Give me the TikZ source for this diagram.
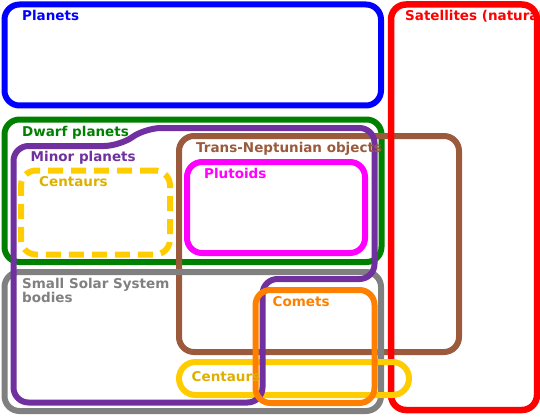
\documentclass[tikz,border=0pt]{standalone}
\usepackage{fontspec}
\setmainfont{DejaVu Sans}
\usepackage{tikz}
\usepackage{xcolor}
\definecolor{planet-blue}{HTML}{0000FF}
\definecolor{moon-red}{HTML}{FF0000}
\definecolor{dwarf-green}{HTML}{008000}
\definecolor{minor-purple}{HTML}{7030A0}
\definecolor{tno-brown}{HTML}{9B5A3C}
\definecolor{pluto-magenta}{HTML}{FF00FF}
\definecolor{centaur-gold}{HTML}{FFCC00}
\definecolor{centaur-text}{HTML}{DDB000}
\definecolor{sssb-gray}{HTML}{808080}
\definecolor{comet-orange}{HTML}{FF8000}
\tikzset{
    set-box/.style = {draw=#1, line width=6pt, rectangle, rounded corners=15pt, inner sep=0pt, outer sep=0pt},
    set-label/.style = {text=#1, font=\fontsize{13.5}{12.5}\selectfont\bfseries, inner sep=0pt, anchor=base west, align=left},
}

\begin{document}
\begin{tikzpicture}[x=1pt, y=-1pt]
\useasboundingbox (0,0) rectangle (540,417);
\clip (0,0) rectangle (540,417);
\node[set-box=planet-blue, minimum width=376.5pt, minimum height=101pt] (planets) at (192.75,55) {};
\node[set-box=dwarf-green, minimum width=377pt, minimum height=142.5pt] (dwarfs) at (193,190.75) {};
\node[set-box=tno-brown, minimum width=280pt, minimum height=216pt] (tnos) at (319,244) {};
\node[set-box=moon-red, line width=6.5pt, minimum width=146pt, minimum height=405.5pt] (satellites) at (464,207.25) {};
\node[set-box=pluto-magenta, minimum width=178pt, minimum height=91pt] (plutoids) at (276,207.5) {};
\node[set-box=centaur-gold, dash pattern=on 15pt off 8pt, minimum width=149pt, minimum height=84pt] (centaurs-a) at (95.5,212.5) {};
\node[set-box=sssb-gray, minimum width=376.5pt, minimum height=139pt] (sssb) at (192.75,341.5) {};
\node[set-box=centaur-gold, rounded corners=16.5pt, minimum width=230pt, minimum height=33pt] (centaurs-b) at (294,378.5) {};
% minor planets is not a rectangle
\draw[minor-purple, line width=6pt, rounded corners=15pt]
    (100,402.5) -- (13.5,402.5) -- (13.5,146) -- (119,146) -- (146,128)
    -- (374.5,128) -- (374.5,279) -- (262.5,279) -- (262.5,402.5) -- cycle;
\node[set-box=comet-orange, minimum width=119pt, minimum height=113pt] (comets) at (315,346.5) {};

\node[set-label=planet-blue] (planets-title) at (22,21) {Planets};
\node[set-label=moon-red] (satellites-title) at (405,21) {Satellites (natural)};
\node[set-label=dwarf-green] (dwarfs-title) at (22,136.5) {Dwarf planets};
\node[set-label=minor-purple] (minor-title) at (30.5,161.5) {Minor planets};
\node[set-label=centaur-text] (centaurs-a-title) at (39,186.5) {Centaurs};
\node[set-label=tno-brown] (tnos-title) at (196,152.5) {Trans-Neptunian objects};
\node[set-label=pluto-magenta] (plutoids-title) at (204,178) {Plutoids};
\node[set-label=sssb-gray] (sssb-title) at (22,302.5) {Small Solar System\\bodies};
\node[set-label=comet-orange] (comets-title) at (272.5,306) {Comets};
\node[set-label=centaur-text] (centaurs-b-title) at (191.5,381.5) {Centaurs};
\end{tikzpicture}
\end{document}
